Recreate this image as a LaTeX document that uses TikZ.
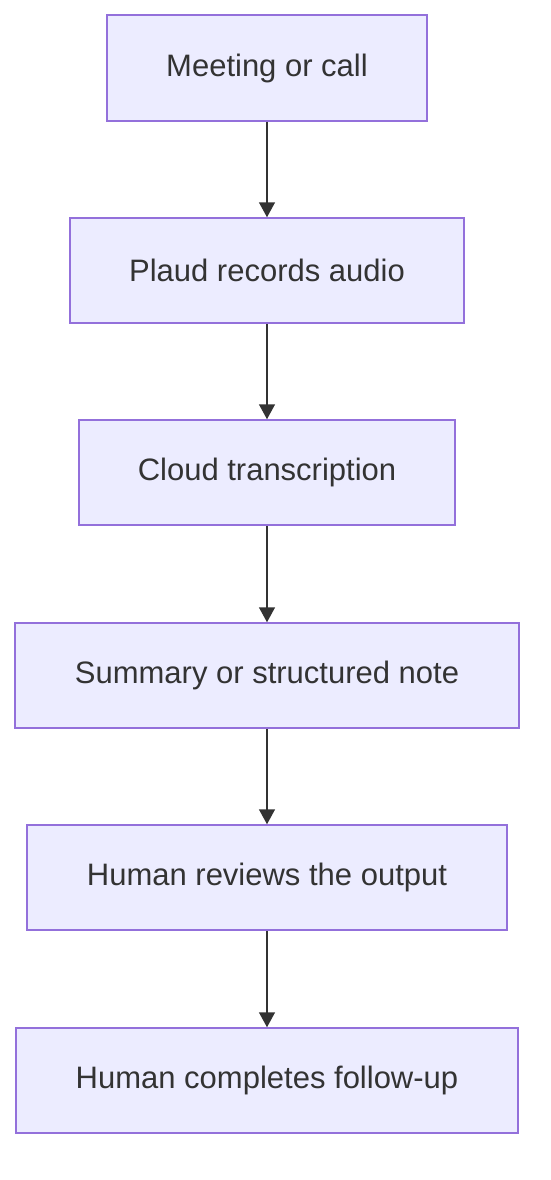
\documentclass[tikz,border=0pt]{standalone}
\usepackage{fontspec}
\setmainfont{Liberation Sans}
\usetikzlibrary{arrows.meta}
\definecolor{boxfill}{HTML}{ECECFF}
\definecolor{boxline}{HTML}{9370DB}
\definecolor{txt}{HTML}{333333}
\begin{document}
\begin{tikzpicture}[x=1pt,y=-1pt,
  stepbox/.style={draw=boxline,fill=boxfill,line width=1.5pt,text=txt,
    font=\fontsize{31}{37}\selectfont,inner sep=0pt},
  flow/.style={draw=txt,line width=1.5pt,-{Triangle[length=15pt,width=16pt]}}]
\useasboundingbox (0,0) rectangle (550,1180);
\node[stepbox,minimum width=320pt,minimum height=106pt] (a) at (267,68) {Meeting or call};
\node[stepbox,minimum width=394pt,minimum height=105pt] (b) at (267,270.5) {Plaud records audio};
\node[stepbox,minimum width=376pt,minimum height=105pt] (c) at (267,472.5) {Cloud transcription};
\node[stepbox,minimum width=504pt,minimum height=105pt] (d) at (267,675.5) {Summary or structured note};
\node[stepbox,minimum width=480pt,minimum height=105pt] (e) at (267,877.5) {Human reviews the output};
\node[stepbox,minimum width=502pt,minimum height=105pt] (f) at (267,1080.5) {Human completes follow-up};
\draw[flow] (a) -- (b);
\draw[flow] (b) -- (c);
\draw[flow] (c) -- (d);
\draw[flow] (d) -- (e);
\draw[flow] (e) -- (f);
\end{tikzpicture}
\end{document}
